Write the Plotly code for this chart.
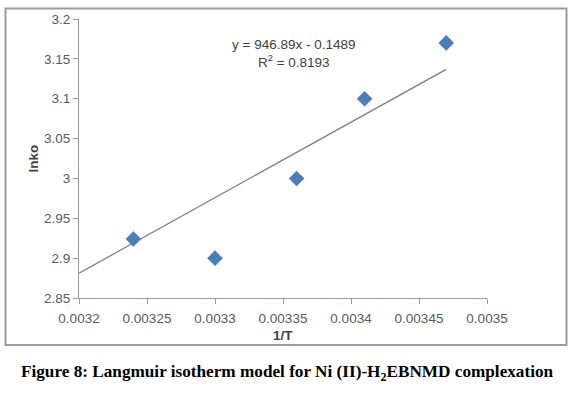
import plotly.graph_objects as go

# Data
inv_T = [0.00324, 0.00330, 0.00336, 0.00341, 0.00347]
ln_ko = [2.924, 2.900, 3.000, 3.100, 3.170]

# Excel linear trendline shown on chart
slope = 946.89
intercept = -0.1489
trend_x = [0.0032, 0.00347]
trend_y = [slope * x + intercept for x in trend_x]

x_ticks = [0.0032, 0.00325, 0.0033, 0.00335, 0.0034, 0.00345, 0.0035]
x_tick_labels = ["0.0032", "0.00325", "0.0033", "0.00335", "0.0034", "0.00345", "0.0035"]
y_ticks = [2.85, 2.9, 2.95, 3.0, 3.05, 3.1, 3.15, 3.2]
y_tick_labels = ["2.85", "2.9", "2.95", "3", "3.05", "3.1", "3.15", "3.2"]

W, H = 575, 396
L, R, T, B = 79, 487, 16, 298  # plot area in pixels

def px(x):
    return (x - L) / (R - L)

def py(y):
    return (B - y) / (B - T)

txt_font = "Liberation Sans, Arial, sans-serif"
txt_col = "#595959"

fig = go.Figure()
fig.add_trace(go.Scatter(
    x=trend_x, y=trend_y, mode="lines",
    line=dict(color="#7a7a7a", width=1.2),
    showlegend=False, hoverinfo="skip"))
fig.add_trace(go.Scatter(
    x=inv_T, y=ln_ko, mode="markers",
    marker=dict(symbol="diamond", size=12, color="#4a7ebb",
                line=dict(width=0)),
    showlegend=False))

axis_common = dict(
    showgrid=False, zeroline=False, showline=True,
    linecolor="#9a9a9a", linewidth=1,
    ticks="outside", ticklen=5, tickcolor="#9a9a9a", tickwidth=1,
    tickfont=dict(family=txt_font, size=13.5, color=txt_col),
)

fig.update_layout(
    width=W, height=H,
    margin=dict(l=L, r=W - R, t=T, b=H - B),
    paper_bgcolor="white", plot_bgcolor="white",
    xaxis=dict(range=[0.0032, 0.0035], tickvals=x_ticks, ticktext=x_tick_labels,
               ticklabelstandoff=3, **axis_common),
    yaxis=dict(range=[2.85, 3.2], tickvals=y_ticks, ticktext=y_tick_labels,
               **axis_common),
    shapes=[dict(type="rect", xref="paper", yref="paper",
                 x0=px(5.5), x1=px(566.5), y0=py(345.5), y1=py(5.5),
                 line=dict(color="#9c9c9c", width=2), layer="below")],
    annotations=[
        dict(text="y = 946.89x - 0.1489<br>R<sup>2</sup> = 0.8193",
             xref="paper", yref="paper", x=px(293), y=py(51),
             xanchor="center", yanchor="middle", showarrow=False,
             font=dict(family=txt_font, size=13.5, color="#404040")),
        dict(text="<b>lnko</b>", xref="paper", yref="paper",
             x=px(33), y=py(157), textangle=-90,
             xanchor="center", yanchor="middle", showarrow=False,
             font=dict(family=txt_font, size=13.5, color="#404040")),
        dict(text="<b>1/T</b>", xref="paper", yref="paper",
             x=px(283), y=py(336),
             xanchor="center", yanchor="middle", showarrow=False,
             font=dict(family=txt_font, size=13.5, color="#404040")),
        dict(text="<b>Figure 8: Langmuir isotherm model for Ni (II)-H<sub>2</sub>EBNMD complexation</b>",
             xref="paper", yref="paper", x=px(287), y=py(374),
             xanchor="center", yanchor="middle", showarrow=False,
             font=dict(family="Liberation Serif, Times New Roman, serif",
                       size=17.2, color="#000000")),
    ],
)

fig.write_html("out.html", config={"displayModeBar": False},
               post_script="document.body.style.margin='0';")
